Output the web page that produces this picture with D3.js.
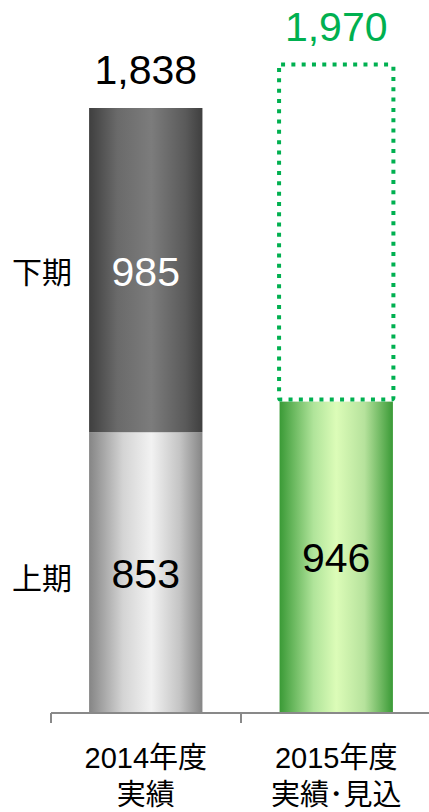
<!DOCTYPE html>
<html><head><meta charset="utf-8">
<script src="https://cdn.jsdelivr.net/npm/d3@7"></script>
<style>html,body{margin:0;padding:0;background:#fff;}svg{display:block;}</style>
</head><body>
<script>
const categories = ["2014年度\n実績", "2015年度\n実績･見込"];
const firstHalf = [853, 946];
const secondHalf = [985, null];
const totals = [1838, 1970];
const rowLabels = ["上期", "下期"];

const W = 429, H = 812;
const svg = d3.select("body").append("svg").attr("width", W).attr("height", H);
const axisY = 713;
const x = d3.scaleBand().domain(categories).range([51, 431]).paddingInner(0.405).paddingOuter(0.2);
const y = d3.scaleLinear().domain([0, 1838]).range([axisY, 108]);

const defs = svg.append("defs");
function grad(id, stops) {
  const g = defs.append("linearGradient").attr("id", id).attr("x1", 0).attr("x2", 1).attr("y1", 0).attr("y2", 0);
  stops.forEach(s => g.append("stop").attr("offset", s[0]).attr("stop-color", s[1]));
}
grad("gDark", [[0, "#3f3f3f"], [0.25, "#6a6a6a"], [0.55, "#7c7c7c"], [0.85, "#5a5a5a"], [1, "#3f3f3f"]]);
grad("gLight", [[0, "#858585"], [0.3, "#d4d4d4"], [0.55, "#f2f2f2"], [0.8, "#c4c4c4"], [1, "#858585"]]);
grad("gGreen", [[0, "#3a9a36"], [0.3, "#b0e49a"], [0.5, "#dcfcb8"], [0.75, "#b6e29c"], [1, "#3a9a36"]]);

const bw = x.bandwidth();
svg.selectAll("rect.h1").data(categories).enter().append("rect")
  .attr("x", d => x(d)).attr("width", bw)
  .attr("y", (d, i) => y(firstHalf[i])).attr("height", (d, i) => axisY - y(firstHalf[i]))
  .attr("fill", (d, i) => i === 0 ? "url(#gLight)" : "url(#gGreen)");
svg.selectAll("rect.h2").data(categories.filter((d, i) => secondHalf[i] != null)).enter().append("rect")
  .attr("x", d => x(d)).attr("width", bw)
  .attr("y", (d) => { const i = categories.indexOf(d); return y(firstHalf[i] + secondHalf[i]); })
  .attr("height", (d) => { const i = categories.indexOf(d); return y(firstHalf[i]) - y(firstHalf[i] + secondHalf[i]); })
  .attr("fill", "url(#gDark)");
const fi = 1;
svg.append("rect")
  .attr("x", x(categories[fi]) - 0.5).attr("width", bw + 1)
  .attr("y", y(totals[fi])).attr("height", y(firstHalf[fi]) - y(totals[fi]) - 2)
  .attr("fill", "none").attr("stroke", "#00b050").attr("stroke-width", 4)
  .attr("stroke-dasharray", "4,6.3").attr("rx", 2);

svg.append("line").attr("x1", 51).attr("x2", 431).attr("y1", axisY).attr("y2", axisY).attr("stroke", "#898989").attr("stroke-width", 2);
[51, 241, 431].forEach(t => svg.append("line").attr("x1", t).attr("x2", t).attr("y1", axisY).attr("y2", axisY + 10).attr("stroke", "#898989").attr("stroke-width", 2));

const num = "Arial, 'Liberation Sans', sans-serif";
const cjk = "'Noto Sans CJK JP', sans-serif";
const mixed = "'Liberation Sans', 'Noto Sans CJK JP', sans-serif";
svg.selectAll("text.v1").data(categories).enter().append("text")
  .attr("x", d => x(d) + bw / 2).attr("y", (d, i) => (y(firstHalf[i]) + axisY) / 2 + 15)
  .attr("text-anchor", "middle").attr("font-family", num).attr("font-size", 41).attr("fill", "#000")
  .text((d, i) => firstHalf[i]);
svg.append("text")
  .attr("x", x(categories[0]) + bw / 2).attr("y", (y(firstHalf[0]) + y(totals[0])) / 2 + 16)
  .attr("text-anchor", "middle").attr("font-family", num).attr("font-size", 41).attr("fill", "#fff")
  .text(secondHalf[0]);
const fmt = d3.format(",");
svg.selectAll("text.tot").data(categories).enter().append("text")
  .attr("x", d => x(d) + bw / 2).attr("y", (d, i) => y(totals[i]) - 24)
  .attr("text-anchor", "middle").attr("font-family", num).attr("font-size", 41)
  .attr("fill", (d, i) => i === 0 ? "#000" : "#00b050")
  .text((d, i) => fmt(totals[i]));

svg.append("text").attr("x", 42).attr("y", 283).attr("text-anchor", "middle").attr("font-family", cjk).attr("font-size", 30).text(rowLabels[1]);
svg.append("text").attr("x", 42).attr("y", 589).attr("text-anchor", "middle").attr("font-family", cjk).attr("font-size", 30).text(rowLabels[0]);

categories.forEach(c => {
  const lines = c.split("\n");
  lines.forEach((l, k) => svg.append("text").attr("text-anchor", "middle").attr("font-family", mixed)
    .attr("font-size", 29).attr("fill", "#000")
    .attr("x", x(c) + bw / 2).attr("y", 768 + k * 37).text(l));
});
</script>
</body></html>
